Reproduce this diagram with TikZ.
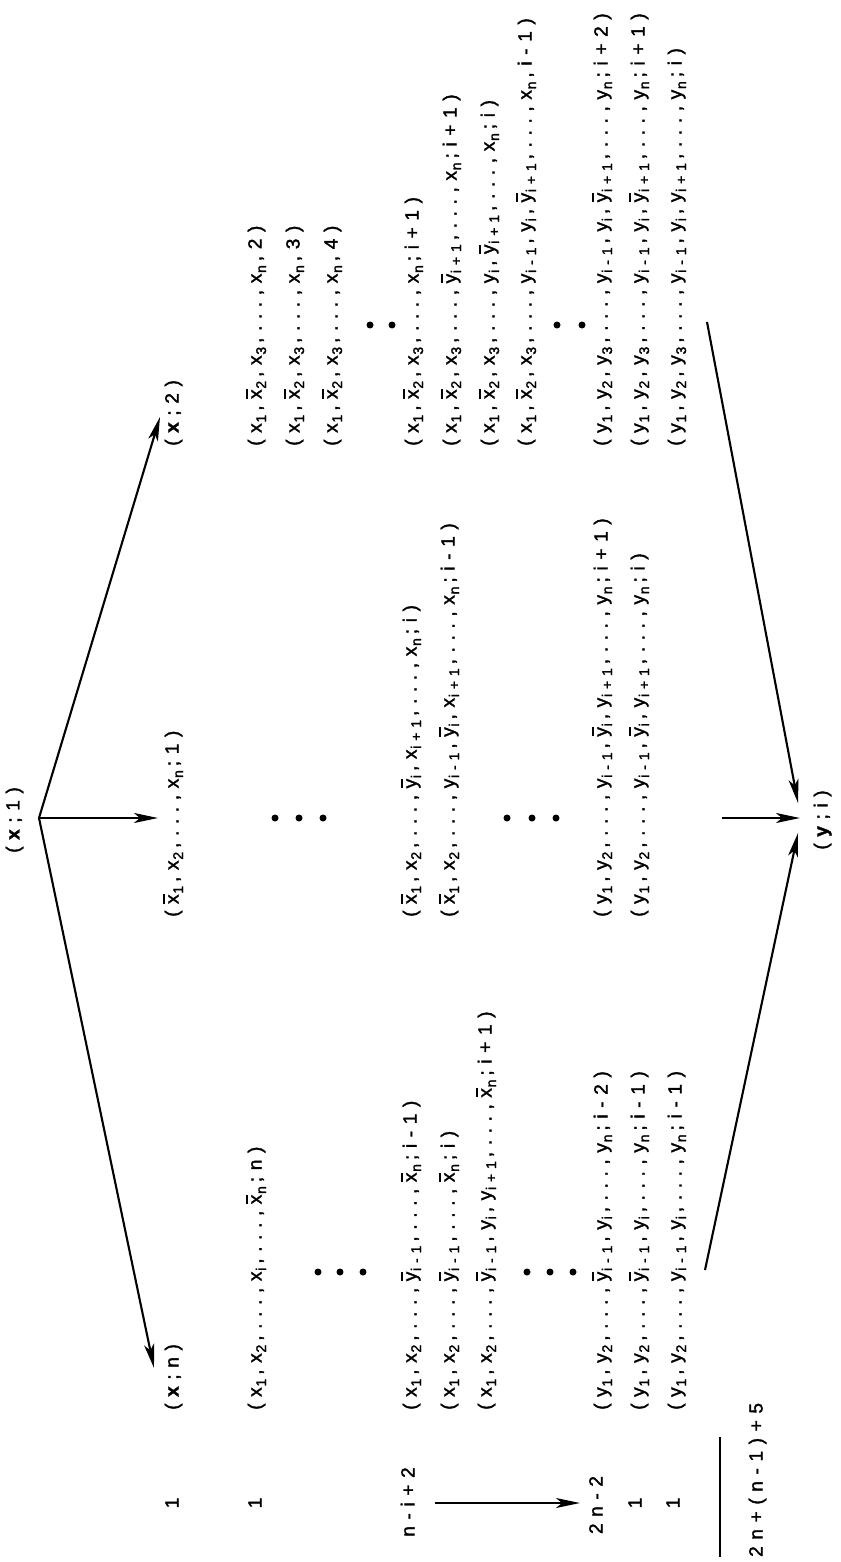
\documentclass[tikz,border=0pt]{standalone}
\usepackage{fontspec}
\setmainfont{Liberation Sans}
\newfontfamily\spacedfont[LetterSpace=35,FakeBold=1.8]{Liberation Sans}
\usetikzlibrary{arrows.meta}
% subscript and overbar that keep the letter spacing across box boundaries
\newcommand\sbs[1]{\kern0.8pt\raisebox{-4.5pt}{\fontsize{14}{14}\selectfont #1}\kern4pt}
\newcommand\ob[1]{\kern6.5pt\rlap{\kern0.3pt\raisebox{14pt}{\rule{9.2pt}{1.6pt}}}#1}
\tikzset{
  tuple/.style={rotate=90, anchor=west, inner sep=0pt,
    font=\spacedfont\fontsize{19}{21}\selectfont, text height=13.5pt, text depth=4.5pt},
  tag/.style={rotate=90, anchor=center, inner sep=0pt,
    font=\spacedfont\fontsize{19}{21}\selectfont, text height=13.5pt, text depth=4.5pt},
  conn/.style={line width=2.1pt, -{Stealth[length=24pt,width=10pt,inset=6pt]}},
  rule/.style={line width=2.2pt},
  vdot/.style={circle, fill=black, inner sep=0pt, minimum size=7pt}
}
\begin{document}
\begin{tikzpicture}[x=1pt,y=-1pt]
\useasboundingbox (0,0) rectangle (840,1562);

% source and sink
\node[tag] (src) at (15,820) {(\textbf{x};1)};
\node[tag] (snk) at (823,820) {(\textbf{y};i)};

% left branch
\node[tuple] (l1) at (174,1410) {(\textbf{x};n)};
\node[tuple] (l2) at (257,1410) {(x\sbs{1},x\sbs{2},...,x\sbs{i},...,\ob{x}\sbs{n};n)};
\node[vdot] (ld1) at (318,1272) {};
\node[vdot] (ld2) at (340,1272) {};
\node[vdot] (ld3) at (363,1272) {};
\node[tuple] (l6) at (412,1410) {(x\sbs{1},x\sbs{2},...,\ob{y}\sbs{i-1},...,\ob{x}\sbs{n};i-1)};
\node[tuple] (l7) at (450,1410) {(x\sbs{1},x\sbs{2},...,\ob{y}\sbs{i-1},...,\ob{x}\sbs{n};i)};
\node[tuple] (l8) at (487,1410) {(x\sbs{1},x\sbs{2},...,\ob{y}\sbs{i-1},y\sbs{i},y\sbs{i+1},...,\ob{x}\sbs{n};i+1)};
\node[vdot] (ld4) at (527,1272) {};
\node[vdot] (ld5) at (550,1272) {};
\node[vdot] (ld6) at (573,1272) {};
\node[tuple] (l10) at (603,1410) {(y\sbs{1},y\sbs{2},...,\ob{y}\sbs{i-1},y\sbs{i},...,y\sbs{n};i-2)};
\node[tuple] (l11) at (640,1410) {(y\sbs{1},y\sbs{2},...,\ob{y}\sbs{i-1},y\sbs{i},...,y\sbs{n};i-1)};
\node[tuple] (l12) at (677,1410) {(y\sbs{1},y\sbs{2},...,y\sbs{i-1},y\sbs{i},...,y\sbs{n};i-1)};

% middle branch
\node[tuple] (m1) at (174,917) {(\ob{x}\sbs{1},x\sbs{2},...,x\sbs{n};1)};
\node[vdot] (md1) at (275,818) {};
\node[vdot] (md2) at (299,818) {};
\node[vdot] (md3) at (323,818) {};
\node[tuple] (m6) at (412,917) {(\ob{x}\sbs{1},x\sbs{2},...,\ob{y}\sbs{i},x\sbs{i+1},...,x\sbs{n};i)};
\node[tuple] (m7) at (450,917) {(\ob{x}\sbs{1},x\sbs{2},...,y\sbs{i-1},\ob{y}\sbs{i},x\sbs{i+1},...,x\sbs{n};i-1)};
\node[vdot] (md4) at (507,818) {};
\node[vdot] (md5) at (532,818) {};
\node[vdot] (md6) at (556,818) {};
\node[tuple] (m10) at (603,917) {(y\sbs{1},y\sbs{2},...,y\sbs{i-1},\ob{y}\sbs{i},y\sbs{i+1},...,y\sbs{n};i+1)};
\node[tuple] (m11) at (640,917) {(y\sbs{1},y\sbs{2},...,y\sbs{i-1},\ob{y}\sbs{i},y\sbs{i+1},...,y\sbs{n};i)};

% right branch
\node[tuple] (r1) at (174,446) {(\textbf{x};2)};
\node[tuple] (r2) at (257,446) {(x\sbs{1},\ob{x}\sbs{2},x\sbs{3},...,x\sbs{n},2)};
\node[tuple] (r3) at (295,446) {(x\sbs{1},\ob{x}\sbs{2},x\sbs{3},...,x\sbs{n},3)};
\node[tuple] (r4) at (333,446) {(x\sbs{1},\ob{x}\sbs{2},x\sbs{3},...,x\sbs{n},4)};
\node[vdot] (rd1) at (370,325) {};
\node[vdot] (rd2) at (392,325) {};
\node[tuple] (r6) at (414,446) {(x\sbs{1},\ob{x}\sbs{2},x\sbs{3},...,x\sbs{n};i+1)};
\node[tuple] (r7) at (452,446) {(x\sbs{1},\ob{x}\sbs{2},x\sbs{3},...,\ob{y}\sbs{i+1},...,x\sbs{n};i+1)};
\node[tuple] (r8) at (490,446) {(x\sbs{1},\ob{x}\sbs{2},x\sbs{3},...,y\sbs{i},\ob{y}\sbs{i+1},...,x\sbs{n};i)};
\node[tuple] (r9) at (527,446) {(x\sbs{1},\ob{x}\sbs{2},x\sbs{3},...,y\sbs{i-1},y\sbs{i},\ob{y}\sbs{i+1},...,x\sbs{n},i-1)};
\node[vdot] (rd3) at (557,325) {};
\node[vdot] (rd4) at (582,325) {};
\node[tuple] (r10) at (603,446) {(y\sbs{1},y\sbs{2},y\sbs{3},...,y\sbs{i-1},y\sbs{i},\ob{y}\sbs{i+1},...,y\sbs{n};i+2)};
\node[tuple] (r11) at (640,446) {(y\sbs{1},y\sbs{2},y\sbs{3},...,y\sbs{i-1},y\sbs{i},\ob{y}\sbs{i+1},...,y\sbs{n};i+1)};
\node[tuple] (r12) at (677,446) {(y\sbs{1},y\sbs{2},y\sbs{3},...,y\sbs{i-1},y\sbs{i},y\sbs{i+1},...,y\sbs{n};i)};

% step counts
\node[tag] (c1) at (174,1503) {1};
\node[tag] (c2) at (257,1503) {1};
\node[tag] (c3) at (410,1502) {n-i+2};
\node[tag] (c4) at (598,1505) {2n-2};
\node[tag] (c5) at (637,1503) {1};
\node[tag] (c6) at (675,1503) {1};
\node[tuple] (tot) at (758,1557) {2n+(n-1)+5};
\coordinate (rangeA) at (435,1503);
\coordinate (rangeB) at (580,1503);
\draw[conn] (rangeA) -- (rangeB);
\coordinate (sumA) at (720,1437);
\coordinate (sumB) at (720,1557);
\draw[rule] (sumA) -- (sumB);

% fan-out from the source
\coordinate (apex) at (39,818);
\coordinate (tipN) at (154,1368);
\coordinate (tip1) at (158,818);
\coordinate (tip2) at (160,417);
\draw[conn] (apex) -- (tipN);
\draw[conn] (apex) -- (tip1);
\draw[conn] (apex) -- (tip2);

% fan-in to the sink
\coordinate (inL) at (705,1270);
\coordinate (inM) at (722,818);
\coordinate (inR) at (707,322);
\coordinate (tipL) at (798,833);
\coordinate (tipM) at (800,818);
\coordinate (tipR) at (798,803);
\draw[conn] (inL) -- (tipL);
\draw[conn] (inM) -- (tipM);
\draw[conn] (inR) -- (tipR);
\end{tikzpicture}
\end{document}
